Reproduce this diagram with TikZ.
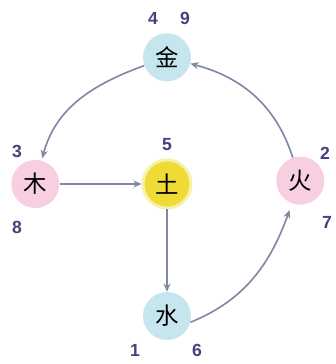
\documentclass[tikz,border=0pt]{standalone}
\usepackage{fontspec}
\setmainfont{Liberation Sans}
\newfontfamily\cjk{Noto Sans CJK SC}
\usepackage{tikz}
\usetikzlibrary{arrows.meta, positioning}

\definecolor{elemblue}{HTML}{C6E6EF}
\definecolor{elempink}{HTML}{F7CFE0}
\definecolor{elemyellow}{HTML}{EEDB35}
\definecolor{elemglow}{HTML}{F7F0A8}
\definecolor{numcolor}{HTML}{4A3F78}
\definecolor{linkcolor}{HTML}{7F89A4}

\begin{document}
\begin{tikzpicture}[
    on grid,
    elem/.style={circle, minimum size=1.44cm, inner sep=0pt, font=\cjk\fontsize{20}{20}\selectfont},
    num/.style={font=\bfseries\fontsize{15}{15}\selectfont, text=numcolor, inner sep=0pt},
    arrow/.style={-{Stealth[length=7pt, width=6pt]}, line width=1.4pt, draw=linkcolor}
]
    \useasboundingbox (-5.01,-5.4) rectangle (5.04,5.52);

    % Earth in the centre
    \node[elem, fill=elemyellow, draw=elemglow, line width=2.5pt] (tu) {土};

    % Metal, Wood, Fire, Water around it
    \node[elem, fill=elemblue, above=3.8cm of tu] (jin) {金};
    \node[elem, fill=elempink, left=3.95cm of tu] (mu) {木};
    \node[elem, fill=elempink, right=4cm of tu, yshift=0.1cm] (huo) {火};
    \node[elem, fill=elemblue, below=3.96cm of tu] (shui) {水};

    % Numbers
    \node[num, above left=1.18cm and 0.42cm of jin] (n4) {4};
    \node[num, above right=1.18cm and 0.54cm of jin] (n9) {9};
    \node[num, above left=0.97cm and 0.55cm of mu] (n3) {3};
    \node[num, below left=1.31cm and 0.55cm of mu] (n8) {8};
    \node[num, above=1.17cm of tu] (n5) {5};
    \node[num, above right=0.83cm and 0.74cm of huo] (n2) {2};
    \node[num, below right=1.24cm and 0.8cm of huo] (n7) {7};
    \node[num, below left=1.02cm and 0.96cm of shui] (n1) {1};
    \node[num, below right=1.02cm and 0.9cm of shui] (n6) {6};

    % Arrows
    \draw[arrow, shorten >=2pt] (jin) to[out=200, in=75] (mu);
    \draw[arrow] (mu) -- (tu);
    \draw[arrow] (tu) -- (shui);
    \draw[arrow, shorten >=6pt] (shui.-15) to[out=22, in=-110] (huo);
    \draw[arrow] (huo) to[out=108, in=-15] (jin);

\end{tikzpicture}
\end{document}
